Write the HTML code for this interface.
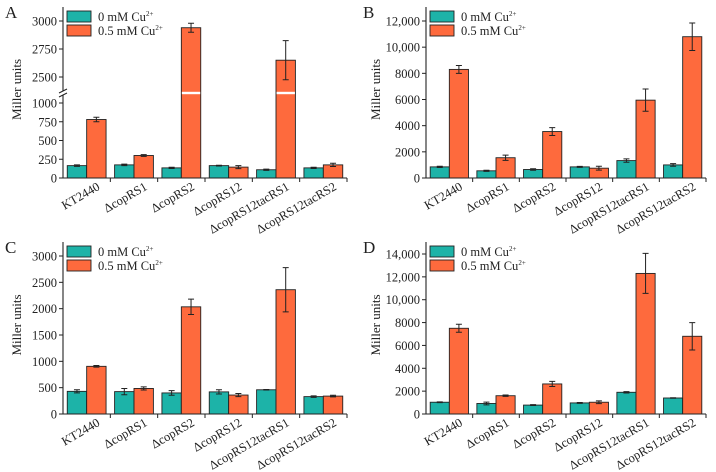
<!DOCTYPE html>
<html><head><meta charset="utf-8"><style>
html,body{margin:0;padding:0;background:#fff;}
svg{display:block;}
svg text{font-family:"Liberation Serif","DejaVu Serif",serif;}
</style></head><body>
<svg id="chart" width="716" height="472" viewBox="0 0 716 472" xmlns="http://www.w3.org/2000/svg" font-family="Liberation Serif, serif"></svg>
<script>
const categories = ["KT2440","\u0394copRS1","\u0394copRS2","\u0394copRS12","\u0394copRS12tacRS1","\u0394copRS12tacRS2"];
const aTeal = [165,175,135,165,110,135];
const aTealErr = [10,10,8,5,8,8];
const aOrange = [780,300,2940,145,2650,175];
const aOrangeErr = [30,12,40,20,175,22];
const bTeal = [850,550,650,850,1330,1000];
const bTealErr = [50,40,60,40,130,100];
const bOrange = [8300,1550,3550,750,5950,10800];
const bOrangeErr = [300,200,300,150,850,1050];
const cTeal = [430,425,400,420,460,330];
const cTealErr = [30,60,45,40,5,15];
const cOrange = [905,485,2035,360,2360,340];
const cOrangeErr = [15,30,145,30,420,15];
const dTeal = [1030,920,780,970,1900,1400];
const dTealErr = [30,120,40,40,60,20];
const dOrange = [7500,1600,2630,1030,12300,6800];
const dOrangeErr = [350,60,220,120,1750,1200];
const aTicksLow = [0,250,500,750,1000];
const aTicksHigh = [2500,2750,3000];
const bTicks = [0,2000,4000,6000,8000,10000,12000];
const cTicks = [0,500,1000,1500,2000,2500,3000];
const dTicks = [0,2000,4000,6000,8000,10000,12000,14000];

const svg = document.getElementById('chart');
const NS = "http://www.w3.org/2000/svg";
const FONT = '"Liberation Serif", serif';
function mk(tag, attrs, parent){
  const e = document.createElementNS(NS, tag);
  for (const k in attrs) e.setAttribute(k, attrs[k]);
  if (tag === 'text') e.style.fontFamily = FONT;
  (parent||svg).appendChild(e);
  return e;
}
function fmt(v){ return v>=10000 ? v.toLocaleString('en-US') : String(v); }

function panel(cfg){
  const g = mk('g', {});
  
  
  const x0 = cfg.x0, x1 = cfg.x1, yBase = cfg.yBase, yTop = cfg.yTop, y = cfg.y;
  const cw = (x1 - x0) / categories.length;
  const bw = cw * 0.41;
  categories.forEach((c, i) => {
    const cx = x0 + cw * (i + 0.5);
    [[cfg.teal, cfg.tealErr, '#1db3a8', cx - bw, 'teal'], [cfg.orange, cfg.orangeErr, '#fe6a3d', cx, 'orange']].forEach(([vals, errs, col, bx, nm]) => {
      const v = vals[i];
      const yt = y(v);
      const r = mk('rect', {x: bx, y: yt, width: bw, height: yBase - yt, fill: col, stroke: '#222', 'stroke-width': 0.9}, g);
      
      
      if (cfg.breakY && v > cfg.breakVal) {
        const br = mk('rect', {x: bx + 0.5, y: cfg.breakY - 1.2, width: bw - 1, height: 2.4, fill: '#fff'}, g);
        
        
      }
      const ex = bx + bw / 2, e = errs[i];
      const eb = mk('path', {d: `M${ex},${y(v+e)}V${y(v-e)}M${ex-3},${y(v+e)}h6M${ex-3},${y(v-e)}h6`, stroke: '#222', 'stroke-width': 1, fill: 'none'}, g);
      
      
    });
    const tk = mk('path', {d: `M${x0 + cw*(i+1)},${yBase}v4`, stroke: '#222', 'stroke-width': 1}, g);
    
    
    const t = mk('text', {x: cx + 14, y: yBase + 11, 'font-size': 12.5, 'text-anchor': 'end', fill: '#222', transform: `rotate(-30 ${cx+14} ${yBase+11})`}, g);
    t.textContent = c;
    
    
  });
  const ax = mk('path', {d: `M${x0},${yTop}V${yBase}H${x1}`, stroke: '#222', 'stroke-width': 1.1, fill: 'none'}, g);
  
  
  if (cfg.breakY) {
    const wb = mk('rect', {x: x0 - 3, y: cfg.breakY - 2, width: 6, height: 4, fill: '#fff'}, g);
    
    
    const bk = mk('path', {d: `M${x0-4},${cfg.breakY}l8,-4M${x0-4},${cfg.breakY+4}l8,-4`, stroke: '#222', 'stroke-width': 1}, g);
    
    
  }
  cfg.ticks.forEach(v => {
    const ty = y(v);
    const tk = mk('path', {d: `M${x0-4},${ty}H${x0}`, stroke: '#222', 'stroke-width': 1}, g);
    
    
    const t = mk('text', {x: x0 - 6, y: ty + 4.5, 'font-size': 12.5, 'text-anchor': 'end', fill: '#222'}, g);
    t.textContent = fmt(v);
    
    
  });
  const yt = mk('text', {x: 0, y: 0, 'font-size': 13, 'text-anchor': 'middle', fill: '#222', transform: `translate(${cfg.titleX},${(yTop+yBase)/2 - 3}) rotate(-90)`}, g);
  yt.textContent = 'Miller units';
  
  
  const lt = mk('text', {x: cfg.letterX, y: yTop + 11, 'font-size': 17, fill: '#222'}, g);
  lt.textContent = cfg.letter;
  
  
  const lg = mk('g', {}, g);
  
  
  [['#1db3a8', '0 mM Cu', 0], ['#fe6a3d', '0.5 mM Cu', 14]].forEach(([col, lbl, dy]) => {
    const lx = x0 + 4, ly = yTop + 4 + dy;
    const sw = mk('rect', {x: lx, y: ly, width: 24, height: 11, fill: col, stroke: '#222', 'stroke-width': 0.9}, lg);
    
    
    const t = mk('text', {x: lx + 31, y: ly + 10, 'font-size': 12.5, fill: '#222'}, lg);
    
    
    t.textContent = lbl;
    const sup = mk('tspan', {'font-size': 7, dy: -5}, t);
    sup.textContent = '2+';
  });
}

panel({letter:'A', letterX: 5, titleX: 21, x0: 63, x1: 347, yBase: 178, yTop: 7, breakY: 93, breakVal: 1100,
  y: v => v <= 1100 ? 178 - v * 0.075 : 21 + (3000 - v) * 56 / 500,
  ticks: aTicksLow.concat(aTicksHigh), teal: aTeal, tealErr: aTealErr, orange: aOrange, orangeErr: aOrangeErr});
panel({letter:'B', letterX: 363, titleX: 380, x0: 426, x1: 706, yBase: 178, yTop: 7,
  y: v => 178 - v * (157 / 12000),
  ticks: bTicks, teal: bTeal, tealErr: bTealErr, orange: bOrange, orangeErr: bOrangeErr});
panel({letter:'C', letterX: 5, titleX: 21, x0: 63, x1: 347, yBase: 414, yTop: 242,
  y: v => 414 - v * (158 / 3000),
  ticks: cTicks, teal: cTeal, tealErr: cTealErr, orange: cOrange, orangeErr: cOrangeErr});
panel({letter:'D', letterX: 363, titleX: 380, x0: 426, x1: 706, yBase: 414, yTop: 242,
  y: v => 414 - v * (160 / 14000),
  ticks: dTicks, teal: dTeal, tealErr: dTealErr, orange: dOrange, orangeErr: dOrangeErr});
</script>
</body></html>
